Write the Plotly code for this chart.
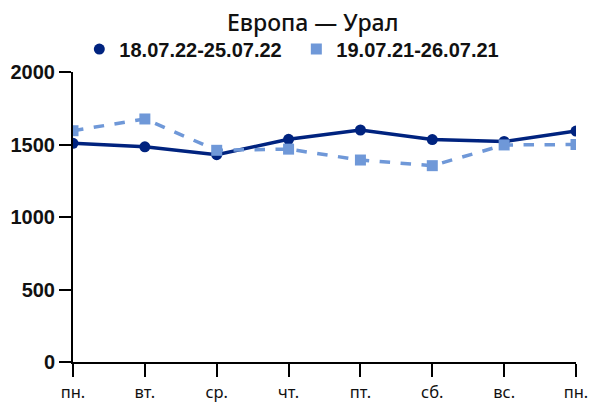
import plotly.graph_objects as go

days = ["пн.", "вт.", "ср.", "чт.", "пт.", "сб.", "вс.", "пн."]
series_2022_name = "18.07.22-25.07.22"
series_2021_name = "19.07.21-26.07.21"
values_2022 = [1508, 1484, 1430, 1536, 1600, 1534, 1521, 1593]
values_2021 = [1595, 1676, 1460, 1468, 1393, 1354, 1497, 1500]
y_ticks = [0, 500, 1000, 1500, 2000]

dark = "#00237f"
light = "#6f98d8"
x = list(range(len(days)))

fig = go.Figure()
fig.add_trace(go.Scatter(
    x=x, y=values_2022, name=series_2022_name, mode="lines+markers",
    line=dict(color=dark, width=3.5), showlegend=False,
    marker=dict(symbol="circle", size=11, color=dark),
))
fig.add_trace(go.Scatter(
    x=x, y=values_2021, name=series_2021_name, mode="lines+markers",
    line=dict(color=light, width=3.5, dash="dash"), showlegend=False,
    marker=dict(symbol="square", size=11, color=light),
))
# legend entries (marker only, as in the reference)
fig.add_trace(go.Scatter(x=[None], y=[None], name=series_2022_name, mode="markers",
                         marker=dict(symbol="circle", size=11, color=dark)))
fig.add_trace(go.Scatter(x=[None], y=[None], name=series_2021_name, mode="markers",
                         marker=dict(symbol="square", size=11, color=light)))

fig.update_layout(
    width=589, height=403,
    paper_bgcolor="white", plot_bgcolor="white",
    margin=dict(l=73, r=13, t=72, b=41, autoexpand=False),
    title=dict(text="Европа — Урал", x=0.531, xanchor="center", xref="container",
               y=0.943, yanchor="middle", yref="container",
               font=dict(family="Noto Sans", size=23, color="#111", weight=500)),
    legend=dict(orientation="h", x=0.444, xanchor="center", xref="paper",
                y=1.079, yanchor="middle", entrywidth=172,
                font=dict(family="Liberation Sans", size=20, color="#111", weight="bold")),
    showlegend=True,
)

fig.update_xaxes(
    range=[0, 7], tickvals=x, ticktext=days,
    showline=True, linecolor="black", linewidth=2,
    ticks="outside", ticklen=13, tickwidth=2, tickcolor="black",
    showgrid=False, zeroline=False, tickangle=0, ticklabelstandoff=1,
    tickfont=dict(family="Noto Sans", size=16.5, color="#111"),
)
fig.update_yaxes(
    range=[0, 2000], tickvals=y_ticks,
    showline=True, linecolor="black", linewidth=2,
    ticks="outside", ticklen=12, tickwidth=2, tickcolor="black",
    showgrid=False, zeroline=False,
    tickfont=dict(family="Liberation Sans", size=20, color="#111", weight="bold"),
)

fig.write_html("out.html", config={"displayModeBar": False},
               post_script="document.body.style.margin='0';")
